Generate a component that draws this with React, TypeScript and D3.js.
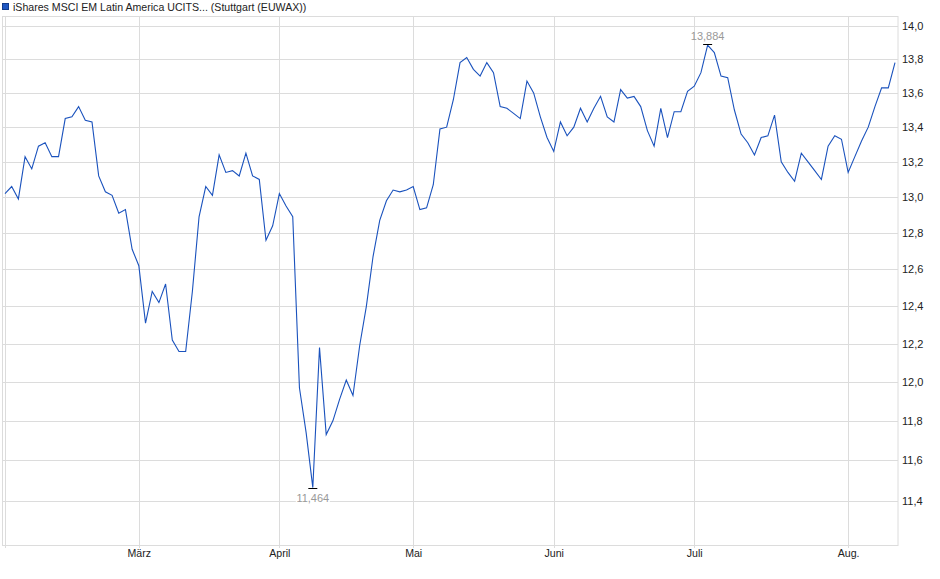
import React from "react";
import * as d3 from "d3";

const title = "iShares MSCI EM Latin America UCITS... (Stuttgart (EUWAX))";
const startDate = "2025-02-03";
const endDate = "2025-08-12";
const holidays = ["2025-04-18", "2025-04-21", "2025-05-01"];
const monthNames = ["Jan.", "Feb.", "März", "April", "Mai", "Juni", "Juli", "Aug.", "Sep.", "Okt.", "Nov.", "Dez."];
const yTicks = [11.4, 11.6, 11.8, 12.0, 12.2, 12.4, 12.6, 12.8, 13.0, 13.2, 13.4, 13.6, 13.8, 14.0];
const prices = [
  13.02, 13.06, 12.99, 13.23, 13.16, 13.29, 13.31, 13.23, 13.23, 13.45,
  13.46, 13.52, 13.44, 13.43, 13.12, 13.03, 13.01, 12.91, 12.93, 12.71,
  12.62, 12.31, 12.48, 12.42, 12.52, 12.22, 12.16, 12.16, 12.48, 12.89,
  13.06, 13.01, 13.24, 13.14, 13.15, 13.12, 13.25, 13.12, 13.10, 12.76,
  12.84, 13.02, 12.95, 12.89, 11.97, 11.74, 11.464, 12.18, 11.73, 11.80,
  11.91, 12.01, 11.93, 12.19, 12.40, 12.67, 12.87, 12.98, 13.04, 13.03,
  13.04, 13.06, 12.93, 12.94, 13.07, 13.39, 13.40, 13.56, 13.78, 13.81,
  13.74, 13.70, 13.78, 13.72, 13.52, 13.51, 13.48, 13.45, 13.67, 13.60,
  13.46, 13.34, 13.26, 13.43, 13.35, 13.40, 13.51, 13.43, 13.51, 13.58,
  13.46, 13.43, 13.62, 13.57, 13.58, 13.52, 13.38, 13.29, 13.51, 13.34,
  13.49, 13.49, 13.61, 13.64, 13.72, 13.884, 13.84, 13.70, 13.69, 13.50,
  13.36, 13.31, 13.24, 13.34, 13.35, 13.47, 13.20, 13.14, 13.09, 13.25,
  13.20, 13.15, 13.10, 13.29, 13.35, 13.33, 13.14, 13.23, 13.32, 13.40,
  13.52, 13.63, 13.63, 13.78,
];

function tradingDays(): Date[] {
  const out: Date[] = [];
  const fmt = d3.utcFormat("%Y-%m-%d");
  const days = d3.utcDay.range(new Date(startDate + "T00:00:00Z"), d3.utcDay.offset(new Date(endDate + "T00:00:00Z"), 1));
  for (const d of days) {
    const wd = d.getUTCDay();
    if (wd === 0 || wd === 6) continue;
    if (holidays.includes(fmt(d))) continue;
    out.push(d);
  }
  return out;
}

const W = 940;
const H = 579;
const plotL = 3;
const plotR = 898;
const plotT = 16;
const plotB = 545;
const font = "'Liberation Sans', Arial, sans-serif";
const blue = "#1a52bd";
const grid = "#dcdcdc";

export default function App() {
  const dates = tradingDays();
  const n = prices.length;
  const x = d3.scaleLinear().domain([0, n - 1]).range([5, 895]);
  const y = d3.scaleLog().domain([11.4, 14.0]).range([500.5, 26]);
  const line = d3.line<number>().x((_, i) => x(i)).y((v) => y(v));
  const fmtTick = (v: number) => v.toFixed(1).replace(".", ",");
  const fmtVal = (v: number) => v.toFixed(3).replace(".", ",");

  const monthStarts: { i: number; label: string }[] = [];
  dates.forEach((d, i) => {
    if (i === 0 || d.getUTCMonth() !== dates[i - 1].getUTCMonth()) {
      monthStarts.push({ i, label: monthNames[d.getUTCMonth()] });
    }
  });

  const maxI = d3.maxIndex(prices);
  const minI = d3.minIndex(prices);
  const crisp = (v: number) => Math.round(v) + 0.5;

  return (
    <svg width={W} height={H} style={{ position: "absolute", left: 0, top: 0, background: "#fff" }} fontFamily={font}>
      <rect x={2.5} y={3.5} width={6} height={6} fill="#1f57c3" stroke="#123c8c" strokeWidth={1} />
      <text x={13} y={10.5} fontSize={10.6} fill="#222">{title}</text>

      {yTicks.map((t) => (
        <line key={"h" + t} x1={plotL} x2={plotR} y1={crisp(y(t))} y2={crisp(y(t))} stroke={grid} strokeWidth={1} />
      ))}
      {monthStarts.map((m) => (
        <line key={"v" + m.i} x1={crisp(x(m.i))} x2={crisp(x(m.i))} y1={plotT} y2={plotB + 3} stroke={grid} strokeWidth={1} />
      ))}
      <rect x={plotL - 0.5} y={plotT + 0.5} width={plotR - plotL + 0.5} height={plotB - plotT} fill="none" stroke={grid} strokeWidth={1} />

      {yTicks.map((t) => (
        <text key={"yl" + t} x={902} y={y(t) + 4} fontSize={11} fill="#222">{fmtTick(t)}</text>
      ))}
      {monthStarts.filter((m) => x(m.i) > 30).map((m) => (
        <text key={"ml" + m.i} x={x(m.i) + 0.5} y={557} fontSize={10.6} fill="#222" textAnchor="middle">{m.label}</text>
      ))}

      <path d={line(prices) || ""} fill="none" stroke={blue} strokeWidth={1.1} />

      <line x1={x(maxI) - 4.5} x2={x(maxI) + 4.5} y1={crisp(y(prices[maxI])) - 1} y2={crisp(y(prices[maxI])) - 1} stroke="#000" strokeWidth={1} />
      <text x={x(maxI)} y={y(prices[maxI]) - 5} fontSize={11} fill="#999" textAnchor="middle">{fmtVal(prices[maxI])}</text>

      <line x1={x(minI) - 4.5} x2={x(minI) + 4.5} y1={crisp(y(prices[minI]))} y2={crisp(y(prices[minI]))} stroke="#000" strokeWidth={1} />
      <rect x={x(minI) - 17} y={y(prices[minI]) + 4} width={34} height={12} fill="#fff" />
      <text x={x(minI)} y={y(prices[minI]) + 14} fontSize={11} fill="#999" textAnchor="middle">{fmtVal(prices[minI])}</text>
    </svg>
  );
}
